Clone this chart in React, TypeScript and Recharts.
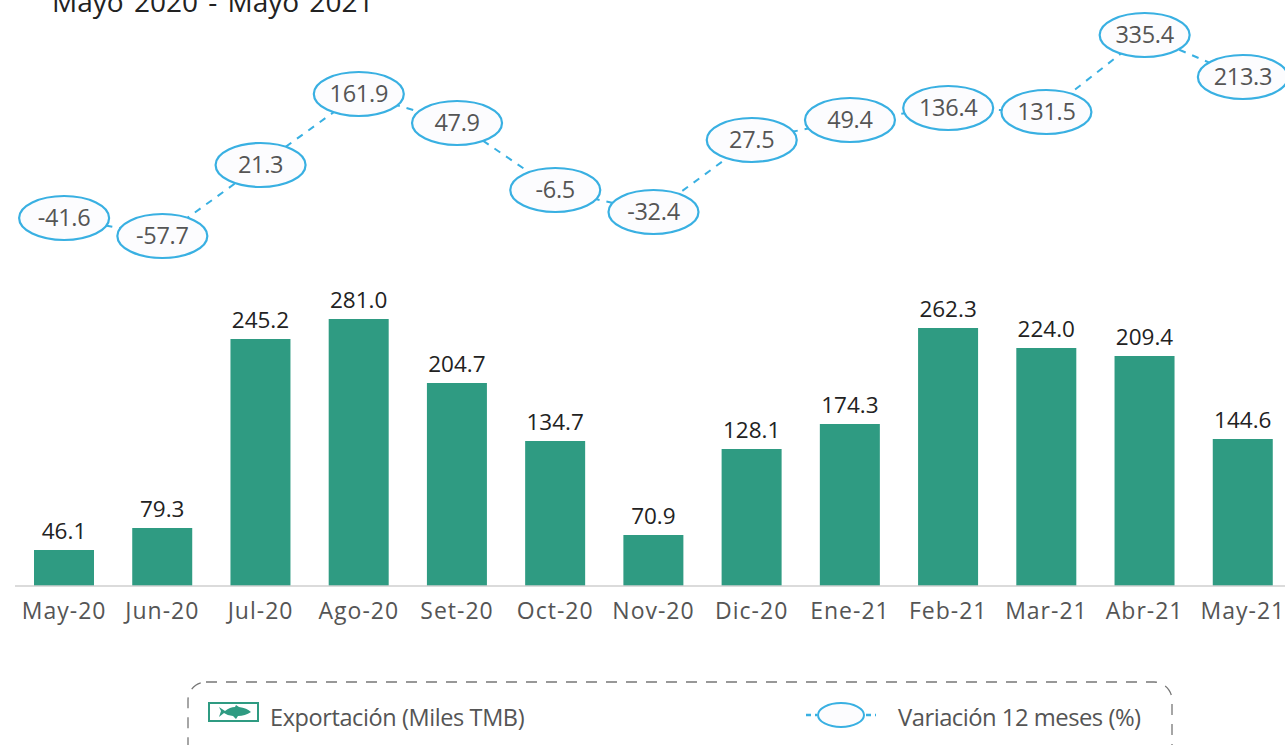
import { FC } from 'react'
import { ComposedChart, Bar, Line, XAxis, YAxis, LabelList, Legend } from 'recharts'

const months = ['May-20', 'Jun-20', 'Jul-20', 'Ago-20', 'Set-20', 'Oct-20', 'Nov-20', 'Dic-20', 'Ene-21', 'Feb-21', 'Mar-21', 'Abr-21', 'May-21']

// printed figures
const exportValues = [46.1, 79.3, 245.2, 281.0, 204.7, 134.7, 70.9, 128.1, 174.3, 262.3, 224.0, 209.4, 144.6]
const variationValues = [-41.6, -57.7, 21.3, 161.9, 47.9, -6.5, -32.4, 27.5, 49.4, 136.4, 131.5, 335.4, 213.3]

// the source graphic is not drawn to scale, so the drawn heights are read off separately
const exportHeights = [36, 58, 247, 267, 203, 145, 51, 137, 162, 258, 238, 230, 147]
const variationHeights = [368, 350, 421, 492, 463, 396, 374, 446, 466, 478, 474, 551, 509]

const data = months.map((month, i) => ({
  month,
  exportHeight: exportHeights[i],
  exportValue: exportValues[i].toFixed(1),
  variationHeight: variationHeights[i],
  variationValue: variationValues[i].toFixed(1),
}))

const FONT = '"Open Sans", sans-serif'
const GREEN = '#2f9b82'
const BLUE = '#39b0e2'

const VariationDot: FC<any> = ({ cx, cy, payload }) => (
  <g>
    <ellipse cx={cx} cy={cy} rx={45} ry={22} fill="#fcfcfe" stroke={BLUE} strokeWidth={2.2} />
    <text x={cx} y={cy + 8} textAnchor="middle" fontFamily={FONT} fontSize={23.5} letterSpacing={-0.3} fill="#555">
      {payload.variationValue}
    </text>
  </g>
)

const ChartLegend: FC = () => (
  <svg width={1285} height={75} style={{ display: 'block' }}>
    <rect x={188} y={12} width={984} height={90} rx={18} fill="none" stroke="#777" strokeWidth={1.3} strokeDasharray="11 9" />
    <rect x={209} y={33} width={49} height={18} fill="#fff" stroke={GREEN} strokeWidth={2} />
    <path d="M219 37 l6 4 q5 -4 10 -4 l1 -2 l3 2 q8 1 12 5 q-6 4 -13 4 l-2 3 l-3 -3 q-5 0 -9 -3 l-5 4 l2 -6 z" fill={GREEN} />
    <text x={270} y={56} fontFamily={FONT} fontSize={23.5} letterSpacing={-0.4} fill="#555">Exportación (Miles TMB)</text>
    <line x1={806} x2={817} y1={45} y2={45} stroke={BLUE} strokeWidth={2.5} strokeDasharray="5 4" />
    <line x1={866} x2={876} y1={45} y2={45} stroke={BLUE} strokeWidth={2.5} strokeDasharray="5 4" />
    <ellipse cx={841} cy={45} rx={23} ry={12} fill="#fcfcfe" stroke={BLUE} strokeWidth={2} />
    <text x={898} y={56} fontFamily={FONT} fontSize={23.8} letterSpacing={-0.5} fill="#555">Variación 12 meses (%)</text>
  </svg>
)

const App: FC = () => {
  return (
    <div style={{ position: 'absolute', left: 0, top: 0, width: 1285, height: 745, overflow: 'hidden', background: '#fff' }}>
      <div style={{ position: 'absolute', left: 52, top: -18, fontFamily: FONT, fontSize: 28, wordSpacing: 3, color: '#222', whiteSpace: 'pre' }}>
        Mayo 2020 - Mayo 2021
      </div>
      <ComposedChart width={1292} height={745} data={data} margin={{ top: 0, right: 0, left: 15, bottom: 0 }} style={{ position: 'absolute', left: 0, top: 0 }}>
        <XAxis
          dataKey="month"
          interval={0}
          height={84}
          axisLine={{ stroke: '#cfcfcf', strokeWidth: 1.5 }}
          tickLine={false}
          tickMargin={2}
          tick={{ fontFamily: FONT, fontSize: 23, fill: '#555', letterSpacing: 1, dy: 9 } as any}
        />
        <YAxis hide domain={[0, 586]} />
        <Bar dataKey="exportHeight" fill={GREEN} barSize={60} isAnimationActive={false}>
          <LabelList dataKey="exportValue" position="top" offset={11} fontFamily={FONT} fontSize={22.5} fill="#222" />
        </Bar>
        <Line
          dataKey="variationHeight"
          type="linear"
          stroke={BLUE}
          strokeWidth={2}
          strokeDasharray="7 7"
          dot={<VariationDot />}
          activeDot={false}
          isAnimationActive={false}
        />
        <Legend content={<ChartLegend />} height={0} wrapperStyle={{ position: 'absolute', left: 0, top: 670, width: 1285, height: 75, bottom: 'auto' }} />
      </ComposedChart>
    </div>
  )
}

export default App
